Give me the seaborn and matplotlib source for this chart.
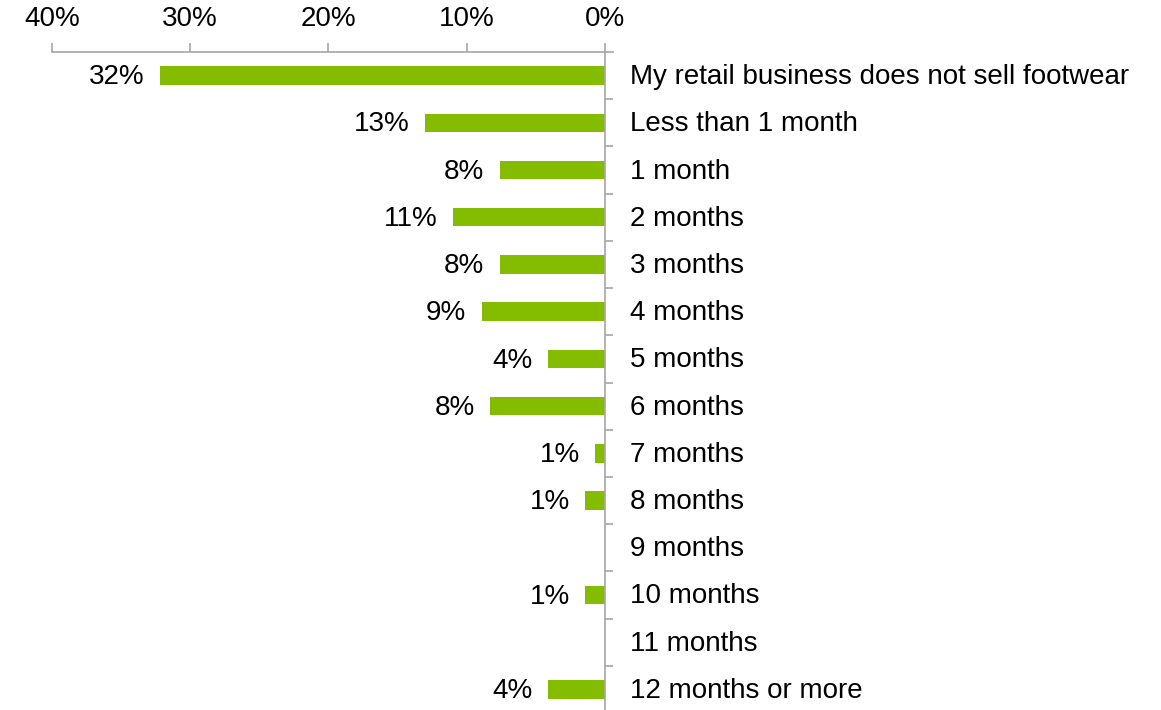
import matplotlib
matplotlib.use("Agg")
import matplotlib.pyplot as plt
import matplotlib.transforms as mtransforms
import seaborn as sns
import numpy as np
import pandas as pd

# Survey answers and share of respondents (percent)
categories = [
    "My retail business does not sell footwear",
    "Less than 1 month",
    "1 month",
    "2 months",
    "3 months",
    "4 months",
    "5 months",
    "6 months",
    "7 months",
    "8 months",
    "9 months",
    "10 months",
    "11 months",
    "12 months or more",
]
shares = [32.2, 13.0, 7.6, 11.0, 7.6, 8.9, 4.1, 8.3, 0.7, 1.4, 0.0, 1.4, 0.0, 4.1]
x_ticks = [0, 10, 20, 30, 40]

GREEN = "#84BC00"
AXIS_GRAY = "#A6A6A6"
FS = 20

sns.set_theme(style="white")
plt.rcParams["font.family"] = ["Liberation Sans", "DejaVu Sans"]
plt.rcParams["text.color"] = "black"
plt.rcParams["xtick.color"] = "black"
plt.rcParams["ytick.color"] = "black"

df = pd.DataFrame({"category": categories, "share": shares})

fig = plt.figure(figsize=(11.61, 7.10), dpi=100)
ax = fig.add_axes([52 / 1161, -3 / 710, (613 - 52) / 1161, (713 - 52) / 710])

sns.barplot(data=df, x="share", y="category", orient="h", color=GREEN,
            saturation=1, width=0.39, linewidth=0, ax=ax)

# Reversed horizontal scale: bars grow leftwards from 0%
ax.set_xlim(40, -0.6)
ax.set_ylim(len(categories) - 0.5, -0.5)

# Value labels at the end of each bar, nudged slightly down
labels = [f"{v:.0f}%" if v > 0 else "" for v in shares]
texts = ax.bar_label(ax.containers[0], labels=labels, padding=11, fontsize=FS,
                     color="black")
for t in texts:
    dx, dy = t.xyann
    t.xyann = (dx, dy - 1.2)

# Percentage axis along the top
ax.xaxis.tick_top()
ax.set_xticks(x_ticks)
ax.set_xticklabels([f"{t}%" for t in x_ticks])
ax.tick_params(axis="x", which="major", direction="out", length=6.5, width=1.2,
               color=AXIS_GRAY, labelcolor="black", pad=8, labelsize=FS,
               top=True, bottom=False)

# Category axis on the 0% line, labels to its right, ticks at row boundaries
ax.spines["right"].set_position(("data", 0))
ax.yaxis.tick_right()
ax.set_yticks(range(len(categories)))
ax.set_yticklabels(categories)
ax.set_yticks(np.arange(len(categories) - 1) + 0.5, minor=True)
ax.tick_params(axis="y", which="major", length=0, pad=18.5, labelsize=FS,
               labelcolor="black", left=False, right=True)
ax.tick_params(axis="y", which="minor", direction="out", length=6, width=1.2,
               color=AXIS_GRAY, left=False, right=True)
shift_up = mtransforms.ScaledTranslation(0, 1.5 / 100, fig.dpi_scale_trans)
for lbl in ax.get_yticklabels():
    lbl.set_transform(lbl.get_transform() + shift_up)

for side in ("left", "bottom"):
    ax.spines[side].set_visible(False)
for side in ("top", "right"):
    ax.spines[side].set_visible(True)
    ax.spines[side].set_color(AXIS_GRAY)
    ax.spines[side].set_linewidth(1.2)

ax.set_xlabel("")
ax.set_ylabel("")
ax.set_facecolor("white")
fig.patch.set_facecolor("white")

fig.savefig("out.png", dpi=100, facecolor="white")
